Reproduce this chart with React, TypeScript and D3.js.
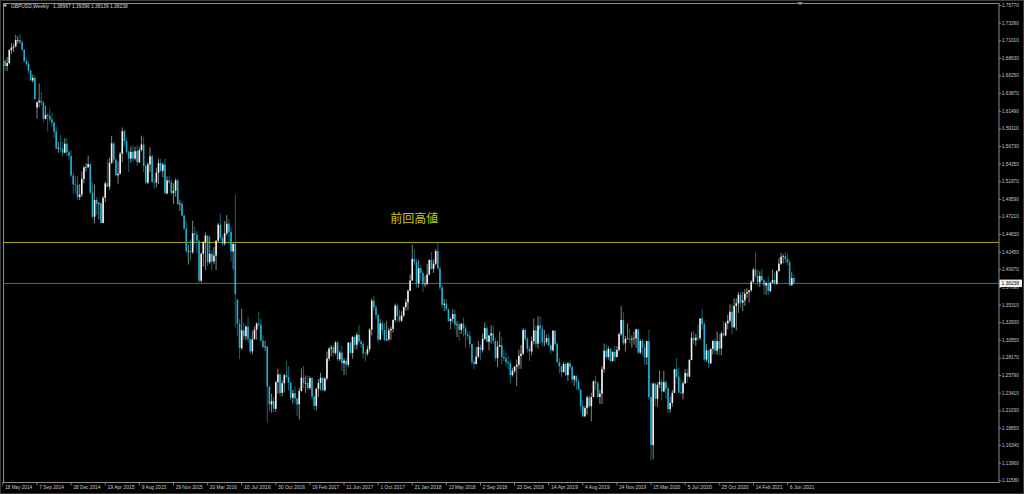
import React, { useMemo } from 'react';
import * as d3 from 'd3';

// 주봉 캔들: [시가, 고가, 저가, 종가]
type Ohlc = [number, number, number, number];

// 2014-05-18 주부터 (33주)
const ohlc2014: Ohlc[] = [
  [1.6835, 1.6925, 1.6795, 1.6825], [1.6825, 1.685, 1.6695, 1.676], [1.676, 1.688, 1.6695, 1.68],
  [1.68, 1.699, 1.678, 1.6975], [1.6975, 1.7065, 1.6925, 1.701], [1.701, 1.7065, 1.695, 1.7025],
  [1.7025, 1.718, 1.701, 1.711], [1.711, 1.716, 1.706, 1.711], [1.711, 1.719, 1.706, 1.708],
  [1.708, 1.71, 1.696, 1.698], [1.698, 1.699, 1.681, 1.6825], [1.6825, 1.687, 1.676, 1.679],
  [1.679, 1.6825, 1.6655, 1.6695], [1.6695, 1.671, 1.656, 1.6565], [1.6565, 1.6645, 1.6535, 1.66],
  [1.66, 1.664, 1.63, 1.6315], [1.62, 1.628, 1.605, 1.627], [1.627, 1.6525, 1.62, 1.629],
  [1.629, 1.6415, 1.623, 1.6265], [1.6265, 1.629, 1.6, 1.6045], [1.6045, 1.6225, 1.604, 1.61],
  [1.61, 1.6125, 1.5875, 1.6085], [1.6085, 1.6185, 1.6005, 1.604], [1.604, 1.613, 1.594, 1.5995],
  [1.5995, 1.6005, 1.579, 1.5875], [1.5875, 1.5945, 1.5635, 1.5645], [1.5645, 1.5735, 1.559, 1.5655],
  [1.5655, 1.5825, 1.56, 1.564], [1.564, 1.5735, 1.554, 1.559], [1.559, 1.5785, 1.558, 1.571],
  [1.571, 1.5785, 1.5545, 1.5595], [1.5595, 1.562, 1.5485, 1.5545], [1.5545, 1.562, 1.5265, 1.528],
];

const ohlc2015: Ohlc[] = [
  [1.528, 1.533, 1.5035, 1.516], [1.516, 1.527, 1.5035, 1.5155], [1.5155, 1.527, 1.495, 1.499],
  [1.499, 1.5165, 1.495, 1.5025], [1.5025, 1.5335, 1.499, 1.5235], [1.5235, 1.541, 1.5175, 1.539],
  [1.539, 1.545, 1.5335, 1.5395], [1.5395, 1.555, 1.538, 1.5435], [1.5435, 1.5445, 1.5025, 1.505],
  [1.505, 1.519, 1.47, 1.4725], [1.4725, 1.516, 1.4635, 1.495], [1.495, 1.499, 1.4745, 1.49],
  [1.49, 1.4925, 1.469, 1.4905], [1.4905, 1.4915, 1.4635, 1.464], [1.464, 1.5005, 1.4635, 1.498],
  [1.498, 1.52, 1.492, 1.5175], [1.5175, 1.55, 1.5125, 1.513], [1.513, 1.5525, 1.5085, 1.5455],
  [1.5455, 1.5815, 1.5435, 1.5715], [1.5715, 1.574, 1.545, 1.5495], [1.5495, 1.5515, 1.527, 1.5285],
  [1.5285, 1.547, 1.517, 1.5305], [1.5305, 1.56, 1.5295, 1.5575], [1.5575, 1.593, 1.546, 1.588],
  [1.588, 1.59, 1.5675, 1.5745], [1.5745, 1.579, 1.5575, 1.56], [1.56, 1.5615, 1.533, 1.551],
  [1.551, 1.5675, 1.5455, 1.56], [1.56, 1.569, 1.546, 1.551], [1.551, 1.567, 1.5485, 1.561],
  [1.561, 1.569, 1.541, 1.546], [1.546, 1.5665, 1.545, 1.5625], [1.5625, 1.582, 1.5605, 1.57],
  [1.57, 1.58, 1.533, 1.541], [1.541, 1.544, 1.5165, 1.5185], [1.5185, 1.546, 1.5165, 1.543],
  [1.543, 1.566, 1.5325, 1.554], [1.554, 1.556, 1.5185, 1.5195], [1.5195, 1.524, 1.5105, 1.5185],
  [1.5185, 1.5385, 1.512, 1.532], [1.532, 1.551, 1.5165, 1.545], [1.545, 1.551, 1.533, 1.5345],
  [1.5345, 1.5455, 1.5255, 1.543], [1.543, 1.551, 1.5025, 1.504], [1.504, 1.527, 1.5025, 1.5215],
  [1.5215, 1.5275, 1.517, 1.519], [1.519, 1.523, 1.5025, 1.5045], [1.5045, 1.5175, 1.4895, 1.5075],
  [1.5075, 1.524, 1.4995, 1.5215], [1.5215, 1.524, 1.488, 1.4895], [1.4895, 1.4955, 1.4805, 1.49],
  [1.49, 1.4935, 1.4725, 1.474],
];

const ohlc2016: Ohlc[] = [
  [1.474, 1.475, 1.4545, 1.4565], [1.4565, 1.4665, 1.4235, 1.426], [1.426, 1.435, 1.408, 1.426],
  [1.426, 1.4415, 1.413, 1.4245], [1.4245, 1.467, 1.422, 1.45], [1.45, 1.459, 1.435, 1.448],
  [1.448, 1.453, 1.424, 1.44], [1.44, 1.441, 1.3835, 1.386], [1.386, 1.424, 1.3835, 1.4225],
  [1.4225, 1.4395, 1.405, 1.438], [1.438, 1.4515, 1.4005, 1.447], [1.447, 1.4475, 1.4055, 1.411],
  [1.411, 1.446, 1.4085, 1.4225], [1.4225, 1.428, 1.3995, 1.412], [1.412, 1.4315, 1.4085, 1.42],
  [1.42, 1.4405, 1.4005, 1.44], [1.44, 1.464, 1.4385, 1.4615], [1.4615, 1.477, 1.44, 1.444],
  [1.444, 1.4475, 1.433, 1.436], [1.436, 1.4665, 1.4335, 1.45], [1.45, 1.4745, 1.447, 1.463],
  [1.463, 1.469, 1.435, 1.452], [1.452, 1.459, 1.4115, 1.4255], [1.4255, 1.4355, 1.401, 1.436],
  [1.436, 1.502, 1.323, 1.368], [1.36, 1.362, 1.312, 1.328], [1.328, 1.334, 1.28, 1.295],
  [1.295, 1.348, 1.2925, 1.319], [1.319, 1.329, 1.306, 1.311], [1.311, 1.326, 1.3055, 1.324],
  [1.324, 1.337, 1.302, 1.307], [1.307, 1.308, 1.2865, 1.2905], [1.2905, 1.3185, 1.2865, 1.307],
  [1.307, 1.3245, 1.3065, 1.32], [1.32, 1.33, 1.306, 1.328], [1.328, 1.3445, 1.324, 1.3265],
  [1.3265, 1.3345, 1.3045, 1.305], [1.305, 1.312, 1.2945, 1.2965], [1.2965, 1.305, 1.291, 1.297],
  [1.297, 1.2975, 1.1945, 1.243], [1.243, 1.2435, 1.209, 1.219], [1.219, 1.2335, 1.208, 1.2235],
  [1.2235, 1.229, 1.2085, 1.213], [1.213, 1.251, 1.209, 1.249], [1.249, 1.2675, 1.2335, 1.2595],
  [1.2595, 1.26, 1.23, 1.2345], [1.2345, 1.2515, 1.23, 1.2475], [1.2475, 1.2605, 1.235, 1.2585],
  [1.2585, 1.2775, 1.253, 1.256], [1.256, 1.2705, 1.2375, 1.2485], [1.2485, 1.249, 1.225, 1.228],
  [1.228, 1.239, 1.22, 1.234],
];

const ohlc2017: Ohlc[] = [
  [1.234, 1.243, 1.22, 1.227], [1.227, 1.228, 1.2035, 1.219], [1.219, 1.2415, 1.1985, 1.237],
  [1.237, 1.2675, 1.2365, 1.255], [1.255, 1.2705, 1.241, 1.2475], [1.2475, 1.258, 1.2345, 1.248],
  [1.248, 1.258, 1.2385, 1.241], [1.241, 1.257, 1.2385, 1.2545], [1.2545, 1.2555, 1.2255, 1.2295],
  [1.2295, 1.2305, 1.211, 1.217], [1.217, 1.2415, 1.211, 1.24], [1.24, 1.253, 1.229, 1.248],
  [1.248, 1.2615, 1.2375, 1.255], [1.255, 1.256, 1.2365, 1.238], [1.238, 1.2555, 1.2365, 1.254],
  [1.254, 1.2905, 1.2515, 1.281], [1.281, 1.296, 1.2775, 1.2945], [1.2945, 1.299, 1.284, 1.296],
  [1.296, 1.299, 1.2845, 1.2885], [1.2885, 1.3045, 1.286, 1.3025], [1.3025, 1.3045, 1.2775, 1.28],
  [1.28, 1.2915, 1.277, 1.289], [1.289, 1.298, 1.264, 1.2745], [1.2745, 1.2815, 1.259, 1.278],
  [1.278, 1.2815, 1.259, 1.2725], [1.2725, 1.303, 1.2695, 1.3025], [1.3025, 1.303, 1.287, 1.2885],
  [1.2885, 1.3115, 1.281, 1.31], [1.31, 1.3125, 1.293, 1.2995], [1.2995, 1.316, 1.293, 1.313],
  [1.313, 1.3265, 1.302, 1.304], [1.304, 1.306, 1.2955, 1.3005], [1.3005, 1.303, 1.281, 1.288],
  [1.288, 1.2905, 1.2775, 1.2875], [1.2875, 1.298, 1.2845, 1.2935], [1.2935, 1.3225, 1.2905, 1.32],
  [1.32, 1.362, 1.312, 1.359], [1.359, 1.3655, 1.345, 1.35], [1.35, 1.3535, 1.334, 1.3395],
  [1.3395, 1.341, 1.3025, 1.3065], [1.3065, 1.334, 1.306, 1.3285], [1.3285, 1.3315, 1.3125, 1.3195],
  [1.3195, 1.329, 1.304, 1.306], [1.306, 1.332, 1.304, 1.307], [1.307, 1.3225, 1.304, 1.319],
  [1.319, 1.324, 1.306, 1.321], [1.321, 1.334, 1.316, 1.333], [1.333, 1.355, 1.33, 1.3525],
  [1.3525, 1.355, 1.33, 1.3385], [1.3385, 1.347, 1.33, 1.332], [1.332, 1.345, 1.3305, 1.339],
  [1.339, 1.3515, 1.3365, 1.3505],
];

const ohlc2018: Ohlc[] = [
  [1.3505, 1.3615, 1.346, 1.357], [1.357, 1.3745, 1.346, 1.3725], [1.3725, 1.3945, 1.372, 1.3865],
  [1.3865, 1.4345, 1.3855, 1.4155], [1.4155, 1.4285, 1.407, 1.4115], [1.4115, 1.416, 1.3765, 1.3825],
  [1.3825, 1.4145, 1.3765, 1.403], [1.403, 1.407, 1.3855, 1.3965], [1.3965, 1.4, 1.371, 1.381],
  [1.381, 1.393, 1.377, 1.382], [1.382, 1.409, 1.3795, 1.3945], [1.3945, 1.415, 1.393, 1.414],
  [1.414, 1.4245, 1.401, 1.402], [1.402, 1.4145, 1.3965, 1.409], [1.409, 1.429, 1.4065, 1.426],
  [1.426, 1.4377, 1.401, 1.4025], [1.4025, 1.4055, 1.3735, 1.377], [1.377, 1.38, 1.349, 1.3535],
  [1.3535, 1.3615, 1.345, 1.355], [1.355, 1.3615, 1.345, 1.3475], [1.3475, 1.3485, 1.3305, 1.3315],
  [1.3315, 1.3365, 1.3205, 1.3345], [1.3345, 1.3475, 1.3295, 1.341], [1.341, 1.347, 1.3205, 1.3265],
  [1.3265, 1.3315, 1.31, 1.327], [1.327, 1.3295, 1.305, 1.3195], [1.3195, 1.3285, 1.314, 1.328],
  [1.328, 1.3365, 1.3105, 1.3215], [1.3215, 1.326, 1.2955, 1.3135], [1.3135, 1.3175, 1.3065, 1.311],
  [1.311, 1.3175, 1.2955, 1.3005], [1.3005, 1.301, 1.2725, 1.2765], [1.2765, 1.2795, 1.2665, 1.2735],
  [1.2735, 1.2965, 1.273, 1.2835], [1.2835, 1.3045, 1.281, 1.2965], [1.2965, 1.3, 1.2785, 1.2925],
  [1.2925, 1.3145, 1.289, 1.3075], [1.3075, 1.3295, 1.3055, 1.322], [1.322, 1.325, 1.303, 1.3035],
  [1.3035, 1.3125, 1.292, 1.312], [1.312, 1.326, 1.301, 1.315], [1.315, 1.3255, 1.3005, 1.3045],
  [1.3045, 1.309, 1.2775, 1.2815], [1.2815, 1.3045, 1.2695, 1.297], [1.297, 1.3175, 1.2965, 1.299],
  [1.299, 1.3105, 1.2725, 1.283], [1.283, 1.293, 1.2775, 1.281], [1.281, 1.289, 1.2715, 1.276],
  [1.276, 1.284, 1.266, 1.2745], [1.2745, 1.278, 1.2475, 1.2585], [1.2585, 1.2685, 1.2565, 1.264],
  [1.264, 1.2705, 1.2615, 1.27],
];

const ohlc2019: Ohlc[] = [
  [1.27, 1.2795, 1.244, 1.2725], [1.2725, 1.293, 1.267, 1.2845], [1.2845, 1.299, 1.267, 1.2875],
  [1.2875, 1.322, 1.2855, 1.3195], [1.3195, 1.3215, 1.304, 1.3075], [1.3075, 1.31, 1.289, 1.294],
  [1.294, 1.2985, 1.2775, 1.2905], [1.2905, 1.311, 1.2855, 1.3045], [1.3045, 1.335, 1.3, 1.319],
  [1.319, 1.325, 1.296, 1.301], [1.301, 1.338, 1.2945, 1.3255], [1.3255, 1.338, 1.3005, 1.321],
  [1.321, 1.326, 1.2975, 1.303], [1.303, 1.3195, 1.2975, 1.3035], [1.3035, 1.313, 1.3, 1.3085],
  [1.3085, 1.3145, 1.297, 1.2985], [1.2985, 1.301, 1.2865, 1.292], [1.292, 1.3195, 1.2905, 1.3185],
  [1.3185, 1.319, 1.2975, 1.3005], [1.3005, 1.3025, 1.275, 1.276], [1.276, 1.2815, 1.2605, 1.2705],
  [1.2705, 1.2715, 1.256, 1.2625], [1.2625, 1.2765, 1.262, 1.2735], [1.2735, 1.276, 1.2575, 1.2585],
  [1.2585, 1.276, 1.2505, 1.2745], [1.2745, 1.2785, 1.265, 1.2695], [1.2695, 1.272, 1.248, 1.2525],
  [1.2525, 1.259, 1.244, 1.2575], [1.2575, 1.258, 1.2385, 1.25], [1.25, 1.2525, 1.238, 1.239],
  [1.239, 1.24, 1.208, 1.2165], [1.2165, 1.225, 1.2015, 1.203], [1.203, 1.217, 1.2015, 1.214],
  [1.214, 1.231, 1.2055, 1.2285], [1.2285, 1.231, 1.215, 1.2165], [1.2165, 1.2345, 1.196, 1.229],
  [1.229, 1.2515, 1.2285, 1.25], [1.25, 1.258, 1.238, 1.2475], [1.2475, 1.25, 1.2285, 1.229],
  [1.229, 1.239, 1.2195, 1.2335], [1.2335, 1.271, 1.2195, 1.2665], [1.2665, 1.301, 1.2615, 1.2915],
  [1.2915, 1.301, 1.2805, 1.283], [1.283, 1.2975, 1.2795, 1.294], [1.294, 1.295, 1.2765, 1.2775],
  [1.2775, 1.2905, 1.277, 1.29], [1.29, 1.2985, 1.277, 1.283], [1.283, 1.2975, 1.282, 1.2925],
  [1.2925, 1.316, 1.2905, 1.314], [1.314, 1.3515, 1.3115, 1.333], [1.333, 1.3435, 1.299, 1.3015],
  [1.3015, 1.3115, 1.29, 1.3075],
];

const ohlc2020: Ohlc[] = [
  [1.3075, 1.3285, 1.3065, 1.308], [1.308, 1.3215, 1.301, 1.3065], [1.3065, 1.312, 1.2955, 1.3075],
  [1.3075, 1.3175, 1.2995, 1.308], [1.308, 1.321, 1.2955, 1.3205], [1.3205, 1.321, 1.287, 1.289],
  [1.289, 1.307, 1.287, 1.3045], [1.3045, 1.307, 1.285, 1.296], [1.296, 1.301, 1.2725, 1.2825],
  [1.2825, 1.305, 1.2725, 1.3045], [1.3045, 1.32, 1.2255, 1.229], [1.229, 1.2485, 1.143, 1.164],
  [1.164, 1.2485, 1.145, 1.247], [1.247, 1.2485, 1.2165, 1.2265], [1.2265, 1.2485, 1.216, 1.2455],
  [1.2455, 1.265, 1.241, 1.2495], [1.2495, 1.253, 1.2245, 1.2365], [1.2365, 1.2645, 1.2355, 1.249],
  [1.249, 1.2515, 1.2265, 1.2405], [1.2405, 1.2425, 1.2075, 1.2125], [1.2125, 1.2295, 1.208, 1.221],
  [1.221, 1.2385, 1.216, 1.2345], [1.2345, 1.267, 1.234, 1.2665], [1.2665, 1.2815, 1.2535, 1.2565],
  [1.2565, 1.269, 1.2335, 1.235], [1.235, 1.2535, 1.233, 1.234], [1.234, 1.251, 1.2255, 1.2475],
  [1.2475, 1.2665, 1.2465, 1.2615], [1.2615, 1.267, 1.248, 1.2565], [1.2565, 1.28, 1.2555, 1.279],
  [1.279, 1.317, 1.2785, 1.309], [1.309, 1.3185, 1.3005, 1.3055], [1.3055, 1.3145, 1.298, 1.309],
  [1.309, 1.3265, 1.3055, 1.3085], [1.3085, 1.3355, 1.3055, 1.335], [1.335, 1.348, 1.3195, 1.3275],
  [1.3275, 1.33, 1.2765, 1.2795], [1.2795, 1.3005, 1.2765, 1.292], [1.292, 1.2935, 1.2675, 1.2745],
  [1.2745, 1.2945, 1.2735, 1.294], [1.294, 1.306, 1.2865, 1.3045], [1.3045, 1.308, 1.2865, 1.2915],
  [1.2915, 1.3175, 1.286, 1.3045], [1.3045, 1.314, 1.2855, 1.2945], [1.2945, 1.3175, 1.2855, 1.315],
  [1.315, 1.331, 1.3105, 1.312], [1.312, 1.331, 1.311, 1.3285], [1.3285, 1.34, 1.3205, 1.332],
  [1.332, 1.354, 1.329, 1.344], [1.344, 1.354, 1.3135, 1.323], [1.323, 1.3625, 1.3225, 1.352],
  [1.352, 1.362, 1.319, 1.3555], [1.3555, 1.3705, 1.3425, 1.367],
];

const ohlc2021: Ohlc[] = [
  [1.367, 1.3705, 1.349, 1.3565], [1.3565, 1.371, 1.345, 1.3595], [1.3595, 1.3745, 1.352, 1.3685],
  [1.3685, 1.376, 1.3625, 1.3705], [1.3705, 1.3735, 1.3565, 1.373], [1.373, 1.3865, 1.371, 1.3845],
  [1.3845, 1.4035, 1.383, 1.401], [1.401, 1.424, 1.389, 1.3925], [1.3925, 1.4015, 1.3795, 1.384],
  [1.384, 1.399, 1.3775, 1.3925], [1.3925, 1.4015, 1.3855, 1.3865], [1.3865, 1.3885, 1.367, 1.3795],
  [1.3795, 1.385, 1.367, 1.383], [1.383, 1.392, 1.367, 1.372], [1.372, 1.384, 1.3705, 1.3835],
  [1.3835, 1.401, 1.3825, 1.387], [1.387, 1.397, 1.3805, 1.382], [1.382, 1.4005, 1.38, 1.399],
  [1.399, 1.4165, 1.3985, 1.409], [1.409, 1.4235, 1.4075, 1.4185], [1.4185, 1.422, 1.4095, 1.419],
  [1.419, 1.425, 1.4095, 1.4155], [1.4155, 1.422, 1.407, 1.411], [1.411, 1.4135, 1.3785, 1.38],
  [1.38, 1.3975, 1.379, 1.3897], [1.38967, 1.39396, 1.38139, 1.38238],
];

// 하단 날짜 라벨 (16주 간격)
const dateTickLabels = [
  '18 May 2014', '7 Sep 2014', '28 Dec 2014', '19 Apr 2015', '9 Aug 2015', '29 Nov 2015',
  '20 Mar 2016', '10 Jul 2016', '30 Oct 2016', '19 Feb 2017', '11 Jun 2017', '1 Oct 2017',
  '21 Jan 2018', '13 May 2018', '2 Sep 2018', '23 Dec 2018', '14 Apr 2019', '4 Aug 2019',
  '24 Nov 2019', '15 Mar 2020', '5 Jul 2020', '25 Oct 2020', '14 Feb 2021', '6 Jun 2021',
];
const DATE_TICK_EVERY = 16;

// 오른쪽 가격 라벨
const priceTickLabels = [
  '1.75770', '1.73390', '1.71010', '1.68630', '1.66250', '1.63870', '1.61490', '1.59110',
  '1.56730', '1.54350', '1.51970', '1.49590', '1.47210', '1.44830', '1.42450', '1.40070',
  '1.37690', '1.35310', '1.32930', '1.30550', '1.28170', '1.25790', '1.23410', '1.21030',
  '1.18650', '1.16340', '1.13960', '1.11580',
];

const symbolTitle = 'GBPUSD,Weekly';
const previousHighLevel = 1.4377;
const previousHighLabel = '前回高値';
const previousHighBar = 193; // 2018년 1월 고점 부근

const WIDTH = 1024;
const HEIGHT = 494;
const plot = { left: 3, top: 3, right: 999, bottom: 482 };
const BAR_STEP = 2.132;

const AXIS_FONT = '"Liberation Sans", Arial, sans-serif';
const AXIS_SIZE = 4.8;
const BULL_BODY = '#f2f2f2';
const BULL_WICK = '#bdbdbd';
const BEAR_BODY = '#1fb0d4';
const BEAR_WICK = '#1a8ea3';

export default function App() {
  const candles = useMemo(
    () => [...ohlc2014, ...ohlc2015, ...ohlc2016, ...ohlc2017, ...ohlc2018, ...ohlc2019, ...ohlc2020, ...ohlc2021],
    [],
  );

  const x = d3
    .scaleLinear()
    .domain([0, candles.length - 1])
    .range([2.9, 2.9 + BAR_STEP * (candles.length - 1)]);
  const y = d3.scaleLinear().domain([1.1158, 1.7577]).range([480.8, 5.5]);

  const last = candles[candles.length - 1];
  const lastClose = last[3];
  const bodyW = 1.6;
  const shiftX = x(candles.length + 1);

  return (
    <>
      <style>{`body{margin:0;background:#000;}`}</style>
      <svg width={WIDTH} height={HEIGHT} style={{ display: 'block', background: '#000' }}>
        <defs>
          <clipPath id="plotClip">
            <rect x={plot.left + 0.5} y={plot.top} width={plot.right - plot.left - 0.5} height={plot.bottom - plot.top} />
          </clipPath>
        </defs>

        {/* 바깥 테두리 */}
        <rect x={0.5} y={0.5} width={WIDTH - 1} height={HEIGHT - 1} fill="none" stroke="#3c3c3c" />

        {/* 차트 영역 테두리 */}
        <rect
          x={plot.left + 0.5}
          y={plot.top + 0.5}
          width={plot.right - plot.left - 0.5}
          height={plot.bottom - plot.top}
          fill="none"
          stroke="#8c8c8c"
          strokeWidth={1}
        />

        {/* 전고점 라인 + 라벨 */}
        <line
          x1={plot.left}
          x2={plot.right}
          y1={y(previousHighLevel)}
          y2={y(previousHighLevel)}
          stroke="#a8a800"
          strokeWidth={1}
        />
        <text
          x={x(previousHighBar)}
          y={y(previousHighLevel) - 25}
          textAnchor="middle"
          dominantBaseline="central"
          fontFamily='"Noto Sans CJK JP", sans-serif'
          fontSize={12}
          fill="#c9c900">
          {previousHighLabel}
        </text>

        {/* 현재가(Bid) 라인 */}
        <line x1={plot.left} x2={plot.right} y1={y(lastClose)} y2={y(lastClose)} stroke="#5c666c" strokeWidth={1} />

        {/* 캔들 */}
        <g clipPath="url(#plotClip)">
          {candles.map(([o, h, l, c], i) => {
            const bull = c >= o;
            const cx = x(i);
            const top = y(Math.max(o, c));
            const bottom = y(Math.min(o, c));
            return (
              <g key={i}>
                <line x1={cx} x2={cx} y1={y(h)} y2={y(l)} stroke={bull ? BULL_WICK : BEAR_WICK} strokeWidth={0.7} />
                <rect
                  x={cx - bodyW / 2}
                  y={top}
                  width={bodyW}
                  height={Math.max(bottom - top, 0.6)}
                  fill={bull ? BULL_BODY : BEAR_BODY}
                />
              </g>
            );
          })}
        </g>

        {/* 심볼 타이틀 */}
        <path d="M3.5,4.6 L7,4.6 L5.25,7.2 Z" fill="#d0d0d0" />
        <text
          x={11}
          y={6.2}
          dominantBaseline="central"
          fontFamily={AXIS_FONT}
          fontSize={AXIS_SIZE}
          fill="#d8d8d8"
          textLength={38}
          lengthAdjust="spacingAndGlyphs">
          {symbolTitle}
        </text>
        <text
          x={53}
          y={6.2}
          dominantBaseline="central"
          fontFamily={AXIS_FONT}
          fontSize={AXIS_SIZE}
          fill="#d8d8d8"
          textLength={74.7}
          lengthAdjust="spacingAndGlyphs">
          {last.map((v) => v.toFixed(5)).join(' ')}
        </text>

        {/* 차트 시프트 마커 */}
        <path d={`M${shiftX - 0.5},2 L${shiftX + 4.5},2 L${shiftX + 2},5.5 Z`} fill="#8a8a8a" />

        {/* 오른쪽 가격축 */}
        {priceTickLabels.map((label) => {
          const ty = y(parseFloat(label));
          return (
            <g key={label}>
              <line x1={plot.right} x2={plot.right + 2.5} y1={ty} y2={ty} stroke="#a0a0a0" strokeWidth={0.7} />
              <text
                x={plot.right + 3}
                y={ty}
                dominantBaseline="central"
                fontFamily={AXIS_FONT}
                fontSize={AXIS_SIZE}
                fill="#c8c8c8"
                textLength={16.7}
                lengthAdjust="spacingAndGlyphs">
                {label}
              </text>
            </g>
          );
        })}

        {/* 현재가 라벨 */}
        <rect x={plot.right + 0.5} y={y(lastClose) - 3.8} width={22.5} height={7.4} fill="#f4f4f4" />
        <text
          x={plot.right + 2.5}
          y={y(lastClose)}
          dominantBaseline="central"
          fontFamily={AXIS_FONT}
          fontSize={AXIS_SIZE}
          fill="#000"
          textLength={17.5}
          lengthAdjust="spacingAndGlyphs">
          {lastClose.toFixed(5)}
        </text>

        {/* 하단 날짜축 */}
        {dateTickLabels.map((label, k) => {
          const tx = x(k * DATE_TICK_EVERY);
          return (
            <g key={label}>
              <line x1={tx} x2={tx} y1={plot.bottom} y2={plot.bottom + 3.5} stroke="#a0a0a0" strokeWidth={0.7} />
              <text
                x={tx + 2.3}
                y={plot.bottom + 5.2}
                dominantBaseline="central"
                fontFamily={AXIS_FONT}
                fontSize={AXIS_SIZE}
                fill="#c8c8c8"
                textLength={label.length * 2.45}
                lengthAdjust="spacingAndGlyphs">
                {label}
              </text>
            </g>
          );
        })}
      </svg>
    </>
  );
}
